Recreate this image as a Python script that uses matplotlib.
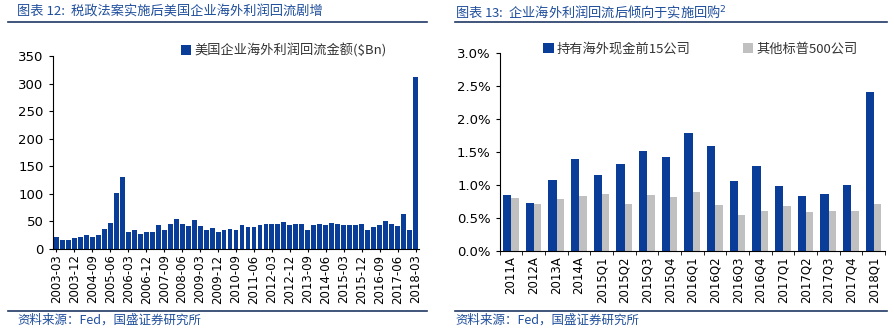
import numpy as np
import matplotlib.pyplot as plt
from matplotlib.lines import Line2D

plt.rcParams['font.family'] = ['DejaVu Sans', 'Noto Sans CJK SC']

# 图表12 数据：季度海外利润回流金额 ($Bn)
quarters = [f'{y}-{m}' for y in range(2003, 2019) for m in ['03', '06', '09', '12']][:61]
repatriation = [21, 17, 17, 20, 22, 25, 22, 25, 36, 47, 102, 130,
                30, 34, 27, 30, 30, 44, 34, 45, 55, 45, 41, 52,
                41, 34, 38, 31, 34, 37, 34, 43, 40, 40, 43, 46,
                45, 46, 49, 44, 45, 45, 34, 43, 46, 43, 47, 46,
                43, 43, 43, 46, 35, 39, 43, 50, 45, 41, 63, 35, 312]

# 图表13 数据：回购占比 (%)
periods = ['2011A', '2012A', '2013A', '2014A', '2015Q1', '2015Q2', '2015Q3', '2015Q4',
           '2016Q1', '2016Q2', '2016Q3', '2016Q4', '2017Q1', '2017Q2', '2017Q3',
           '2017Q4', '2018Q1']
top15 = [0.85, 0.73, 1.08, 1.39, 1.15, 1.31, 1.52, 1.43, 1.79, 1.59, 1.06, 1.29,
         0.98, 0.83, 0.86, 1.00, 2.41]
others = [0.80, 0.71, 0.79, 0.83, 0.86, 0.71, 0.85, 0.81, 0.90, 0.70, 0.55, 0.60,
          0.68, 0.59, 0.60, 0.60, 0.71]

blue = '#0a3d97'
grey = '#c0c0c0'
title_c = '#1f4e9c'
line_c = '#1f3864'
cjk = ['Noto Sans CJK SC', 'DejaVu Sans']

fig = plt.figure(figsize=(8.94, 3.31), dpi=100)

# 标题与页脚
fig.text(0.019, 0.965, '图表 12:  税政法案实施后美国企业海外利润回流剧增', family=cjk,
         fontsize=9.5, color=title_c, style='italic', va='center')
fig.text(0.509, 0.965, '图表 13:  企业海外利润回流后倾向于实施回购$^2$', family=cjk,
         fontsize=9.5, color=title_c, style='italic', va='center')
for x0, x1 in [(0.009, 0.478), (0.509, 0.992)]:
    fig.add_artist(Line2D([x0, x1], [0.933, 0.933], color=line_c, lw=1.2))
    fig.add_artist(Line2D([x0, x1], [0.060, 0.060], color=line_c, lw=1.2))
fig.text(0.019, 0.033, '资料来源：Fed，国盛证券研究所', family=cjk, fontsize=9,
         color=title_c, style='italic', va='center')
fig.text(0.509, 0.033, '资料来源：Fed，国盛证券研究所', family=cjk, fontsize=9,
         color=title_c, style='italic', va='center')

# 左图
ax1 = fig.add_axes([0.059, 0.248, 0.410, 0.583])
x = np.arange(len(quarters))
ax1.bar(x, repatriation, width=0.82, color=blue, label='美国企业海外利润回流金额($Bn)')
ax1.set_xlim(-0.6, len(quarters) - 0.4)
ax1.set_ylim(0, 350)
ax1.set_yticks(range(0, 351, 50))
ax1.set_xticks(x[::3])
ax1.set_xticklabels(quarters[::3], rotation=90, fontsize=8.5)
ax1.tick_params(axis='y', labelsize=9.5, length=3)
ax1.tick_params(axis='x', length=2, pad=2)
for s in ['top', 'right']:
    ax1.spines[s].set_visible(False)
leg1 = ax1.legend(loc='center', bbox_to_anchor=(0.63, 1.03), frameon=False,
                  prop={'family': cjk, 'size': 9.5}, handlelength=0.8, handleheight=0.8,
                  handletextpad=0.2)
for t in leg1.get_texts():
    t.set_color('#333333')

# 右图
ax2 = fig.add_axes([0.559, 0.242, 0.431, 0.598])
xp = np.arange(len(periods))
ax2.bar(xp - 0.17, top15, width=0.36, color=blue, label='持有海外现金前15公司')
ax2.bar(xp + 0.17, others, width=0.32, color=grey, label='其他标普500公司')
ax2.set_xlim(-0.5, len(periods) - 0.5)
ax2.set_ylim(0, 3.0)
ax2.set_yticks(np.arange(0, 3.01, 0.5))
ax2.set_yticklabels([f'{v:.1f}%' for v in np.arange(0, 3.01, 0.5)])
ax2.set_xticks(xp)
ax2.set_xticklabels(periods, rotation=90, fontsize=8.5)
ax2.set_xticks(np.arange(-0.5, len(periods), 1), minor=True)
ax2.tick_params(axis='x', which='major', length=0, pad=4)
ax2.tick_params(axis='x', which='minor', length=3)
ax2.tick_params(axis='y', labelsize=9.5, length=3)
for s in ['top', 'right']:
    ax2.spines[s].set_visible(False)
leg2 = ax2.legend(loc='center', bbox_to_anchor=(0.52, 1.02), ncol=2, frameon=False,
                  prop={'family': cjk, 'size': 9.5}, handlelength=0.8, handleheight=0.8,
                  handletextpad=0.2, columnspacing=4)
for t in leg2.get_texts():
    t.set_color('#333333')

fig.savefig('out.png', dpi=100, facecolor='white')
